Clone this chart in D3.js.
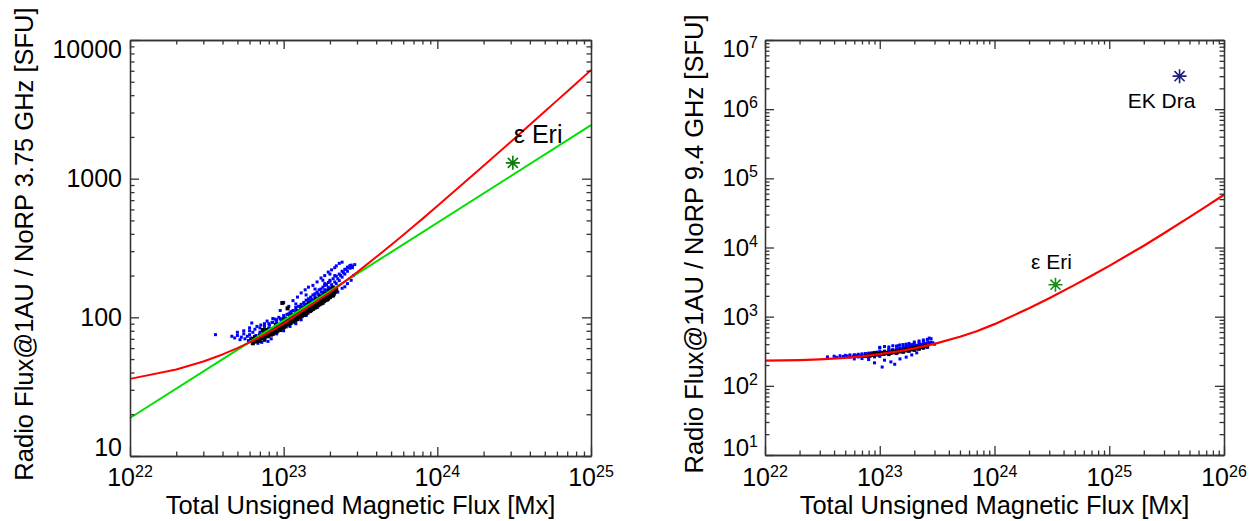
<!DOCTYPE html>
<html><head><meta charset="utf-8">
<script src="https://cdn.jsdelivr.net/npm/d3@7"></script>
<style>
body{margin:0;background:#fff}
svg{display:block}
text{font-family:"Liberation Sans",Arial,Helvetica,sans-serif;fill:#000}
</style>
</head><body>
<svg id="chart" width="1255" height="521"></svg>
<script>
// ---------------- DATA ----------------
// x values of scatter points are given in units of 1e22 Mx
const XUNIT = 1e22;

const xTitle = "Total Unsigned Magnetic Flux [Mx]";

// Left panel: 3.75 GHz
const leftTitleY = "Radio Flux@1AU / NoRP 3.75 GHz [SFU]";
const leftXTickExp = [22, 23, 24, 25];
const leftYTickLabels = ["10", "100", "1000", "10000"];
const leftYTickValues = [10, 100, 1000, 10000];

const leftRedX = [1e22,2e22,3e22,4e22,5e22,6e22,7e22,8e22,9e22,1e23,2e23,3e23,4e23,5e23,6e23,7e23,8e23,9e23,1e24,2e24,3e24,4e24,5e24,6e24,7e24,8e24,9e24,1e25];
const leftRedY = [36,42,48,54,60,66,72,78,84,90,151,211,272,332,392,453,513,574,634,1238,1842,2446,3050,3654,4258,4862,5466,6070];
const leftGreenX = [1e22, 1e25];
const leftGreenY = [18.8, 2430];

const leftBlackX = [6.2,6.4,6.6,6.5,6.8,7.0,7.0,7.2,7.4,7.5,7.6,7.8,8.0,8.0,8.2,8.4,8.5,8.6,8.8,9.0,9.0,9.2,9.4,9.5,9.6,9.8,10.0,10.0,10.2,10.4,10.5,10.6,10.8,11.0,11.0,11.2,11.4,11.5,11.6,11.8,12.0,12.0,12.3,12.5,12.6,12.8,13.0,13.0,13.3,13.5,13.6,13.8,14.0,14.2,14.5,14.6,14.8,15.0,15.3,15.5,15.7,16.0,16.2,16.5,16.8,17.0,17.3,17.6,18.0,18.3,18.6,19.0,19.3,19.6,20.0,20.3,20.6,21.0,21.5,22.0,9.8,10.6,7.3,
  6.3,6.9,7.4,7.9,8.3,8.7,9.1,9.5,9.9,10.3,10.7,11.1,11.5,11.9,12.3,12.7,13.1,13.5,13.9,14.3,14.7,15.1,15.5,15.9,16.3,16.7,17.1,17.5,17.9,18.3,18.7,19.1,19.5,19.9,20.5,21.2,
  7.7,8.9,10.1,11.3,12.5,13.7,14.9,16.1,17.3,18.5,19.7,20.9];
const leftBlackY = [68,70,67,72,71,69,74,72,76,70,73,78,75,80,77,82,76,80,84,79,86,83,88,81,86,90,85,92,88,94,89,97,92,96,100,94,99,104,97,102,106,99,104,110,102,108,113,105,110,116,108,114,119,112,118,124,115,121,126,118,124,130,122,128,135,126,132,139,130,137,143,135,142,148,140,147,153,145,152,158,127,116,81,
  65,68,71,73,75,78,80,82,84,86,89,91,93,95,97,100,102,104,106,108,111,113,115,117,119,122,124,126,128,131,133,135,138,140,144,148,
  81,88,96,103,110,118,126,133,141,149,156,163];

const leftBlueX = [3.6,4.6,4.8,5.0,5.2,5.3,5.5,5.6,5.8,5.9,6.0,6.1,6.3,6.4,6.6,6.8,7.0,7.2,7.5,7.9,8.3,
  6.2,6.0,6.7,7.1,7.5,7.8,8.1,8.4,8.8,9.0,9.3,9.6,10.0,10.3,10.8,11.2,11.5,12.0,12.4,12.8,13.2,13.6,14.0,14.4,14.8,15.2,15.6,16.0,16.4,16.8,17.2,17.6,18.0,18.5,19.0,19.5,20.0,20.5,21.0,21.5,22.0,22.5,23.0,23.5,24.0,24.5,25.0,25.5,26.0,26.5,27.0,27.5,28.0,29.0,23.0,21.5,20.0,18.5,
  9.0,10.0,11.0,12.0,13.0,14.0,15.0,16.5,18.0,19.5,21.0,22.5,24.0,25.0,26.0,27.5,28.5,
  5.0,5.5,6.0,6.5,7.0,7.5,8.0,8.5,9.0,9.5,10.0,10.5,11.0,11.5,12.0,12.5,13.0,13.5,14.0,14.5,15.0,15.5,16.0,16.5,17.0,17.5,18.0,18.5,19.0,19.5,20.0,21.0,22.0,23.0,24.0,25.0,26.0,27.0,28.0,
  7,8,9,10,11,12,13,14,15,16,17,18,19,20,
  8.5,9.5,10,10.8,11.5,12.3,13,13.8,14.5,15.5,16.5,17.5,18.5,19.5,20.5,21.5,12,14,16,18,20,22,24];
const leftBlueY = [75,73,71,74,69,72,76,70,73,68,75,71,78,66,74,65,67,66,68,67,70,
  91,84,86,88,90,94,88,92,97,93,100,96,103,99,106,110,104,115,111,120,116,125,120,130,126,135,131,141,137,147,142,152,148,158,153,165,160,172,166,180,175,190,184,200,195,210,205,222,215,230,226,238,232,240,245,200,185,175,
  76,80,86,90,96,103,110,118,126,134,142,152,162,166,175,185,200,
  78,80,80,82,84,86,90,92,96,98,100,105,108,112,118,120,124,128,133,136,140,145,148,152,158,160,165,170,172,178,182,190,198,205,215,222,230,236,228,
  78,84,91,97,104,110,118,124,131,137,144,150,157,163,
  98,112,128,120,132,140,150,158,165,170,180,192,200,212,220,228,125,145,160,185,205,235,250];
const leftStarX = 3.1e24, leftStarY = 1300, leftStarLabel = "ε Eri";

// Right panel: 9.4 GHz
const rightTitleY = "Radio Flux@1AU / NoRP 9.4 GHz [SFU]";
const rightXTickExp = [22, 23, 24, 25, 26];
const rightYTickExp = [1, 2, 3, 4, 5, 6, 7];

const rightRedX = [1e22,2e22,3e22,5e22,7e22,1e23,1.5e23,2e23,3e23,5e23,7e23,1e24,2e24,3e24,5e24,7e24,1e25,2e25,3e25,5e25,7e25,1e26];
const rightRedY = [231,236,242,254,267,287,318,348,405,513,617,780,1321,1849,2884,3905,5420,10617,16050,27460,39350,57850];

const rightBlackX = [8,8.5,9,9.5,10,10.5,11,11.5,12,12.5,13,13.5,14,14.5,15,15.5,16,16.5,17,17.5,18,18.5,19,19.5,20,20.5,21,21.5,22,23,24,25,9,11,13,15,17,19,21,12,14,16,18,20,22,24,26,
  7.5,8.2,8.8,9.4,10.2,10.8,11.6,12.4,13.2,14.2,15.2,16.2,17.2,18.2,19.2,20.2,21.4,22.6,23.8,25.2];
const rightBlackY = [280,285,282,290,288,295,292,300,298,305,302,310,308,316,312,322,318,328,323,333,330,340,335,345,340,352,346,357,352,362,368,375,295,305,318,325,338,350,360,290,300,312,322,332,345,358,370,
  268,272,278,282,287,290,296,300,306,312,318,324,330,336,342,348,355,362,369,377];

const rightBlueX = [3.5,4.2,4.8,5.2,5.5,5.9,6.2,6.5,6.8,7.0,7.3,7.6,7.9,8.2,8.5,8.8,9.0,9.2,9.5,9.8,10.0,10.2,10.5,10.8,11.0,11.5,12.0,12.5,13.0,13.5,14.0,14.5,15.0,15.5,16.0,16.5,17.0,17.5,18.0,18.5,19.0,19.5,20.0,21.0,22.0,23.0,24.0,25.0,26.0,27.0,28.0,29.0,30.0,12.0,10.0,14.5,
  10.5,9.0,12.5,13.5,11.0,15.0,17.0,19.0,21.0,8.0,7.0,
  4.0,4.5,5.0,5.5,6.0,6.5,7.0,7.5,8.0,8.5,9.0,9.5,10,11,12,13,14,15,16,17,18,19,20,21,22,23,24,25,26,27,28,
  6,8,10,12,14,16,18,20,22,24,26,
  10,11,12,13,14,15,16,17,18,20,22,24,26,27];
const rightBlueY = [262,258,265,270,260,268,275,262,270,280,265,275,285,270,290,278,262,295,282,300,268,290,305,285,312,295,320,300,330,310,340,318,350,325,360,335,372,345,385,350,395,360,410,370,420,380,440,395,460,410,480,420,400,340,352,380,
  187,215,222,205,235,245,260,280,300,240,248,
  268,272,276,280,282,286,290,293,297,300,304,307,312,318,326,332,338,345,352,358,365,372,378,385,392,398,404,410,416,422,428,
  245,258,270,282,293,305,316,327,338,349,359,
  360,370,365,380,375,390,395,400,410,430,445,460,470,490];

const rightStars = [
  {x: 3.4e24, y: 2900, label: "ε Eri", color: "#1b8a1b"},
  {x: 4.1e25, y: 3.0e6, label: "EK Dra", color: "#1f1f80"}
];

// ---------------- DRAWING ----------------
const svg = d3.select("#chart");
const TICK_FS = 25, SUP_FS = 16, TITLE_FS = 25.5;

function decadeTicks(lo, hi) {
  const major = [], minor = [];
  for (let e = lo; e <= hi; e++) {
    major.push(Math.pow(10, e));
    if (e < hi) for (let k = 2; k <= 9; k++) minor.push(k * Math.pow(10, e));
  }
  return {major, minor};
}

function styleAxis(g) {
  g.selectAll("path,line").attr("stroke", "#333").attr("stroke-width", 1.3);
  g.selectAll("text").remove();
}

function drawFrame(x, y, box, xe, ye) {
  const xt = decadeTicks(xe[0], xe[1]);
  const yt = decadeTicks(ye[0], ye[1]);
  const specs = [
    [d3.axisBottom, x, `translate(0,${box.y1})`, xt],
    [d3.axisTop, x, `translate(0,${box.y0})`, xt],
    [d3.axisLeft, y, `translate(${box.x0},0)`, yt],
    [d3.axisRight, y, `translate(${box.x1},0)`, yt]
  ];
  specs.forEach(([ax, sc, tr, t]) => {
    svg.append("g").attr("transform", tr)
      .call(ax(sc).tickValues(t.minor).tickSize(-4.5).tickSizeOuter(0).tickFormat(""))
      .call(styleAxis);
    svg.append("g").attr("transform", tr)
      .call(ax(sc).tickValues(t.major).tickSize(-9).tickSizeOuter(0).tickFormat(""))
      .call(styleAxis);
  });
}

function powLabel(g, x, yBase, exp, anchor, fs, sfs) {
  const t = g.append("text").attr("x", x).attr("y", yBase)
    .attr("text-anchor", anchor).style("font-size", fs + "px");
  t.append("tspan").text("10");
  t.append("tspan").attr("dy", -9).style("font-size", sfs + "px").text(exp);
}

function star(g, cx, cy, r, color) {
  const d = r * 0.72;
  const p = `M${cx - r},${cy}H${cx + r}M${cx},${cy - r}V${cy + r}` +
            `M${cx - d},${cy - d}L${cx + d},${cy + d}M${cx - d},${cy + d}L${cx + d},${cy - d}`;
  g.append("path").attr("d", p).attr("stroke", color).attr("stroke-width", 1.6).attr("fill", "none");
}

function scatter(g, x, y, xs, ys, color, s) {
  g.selectAll(null).data(xs.map((v, i) => [v * XUNIT, ys[i]])).enter()
    .append("rect")
    .attr("x", d => x(d[0]) - s / 2).attr("y", d => y(d[1]) - s / 2)
    .attr("width", s).attr("height", s).attr("fill", color);
}

function line(g, x, y, xs, ys, color, w) {
  g.append("path").datum(xs.map((v, i) => [v, ys[i]]))
    .attr("d", d3.line().x(d => x(d[0])).y(d => y(d[1])))
    .attr("fill", "none").attr("stroke", color).attr("stroke-width", w)
    .attr("stroke-linejoin", "round");
}

// ---- Left panel ----
{
  const box = {x0: 130, x1: 591, y0: 40, y1: 456};
  const x = d3.scaleLog().domain([1e22, 1e25]).range([box.x0, box.x1]);
  const y = d3.scaleLog().domain([10, 10000]).range([box.y1, box.y0]);
  const g = svg.append("g");
  scatter(g, x, y, leftBlueX, leftBlueY, "#0000ff", 3);
  scatter(g, x, y, leftBlackX, leftBlackY, "#000000", 4);
  line(g, x, y, leftGreenX, leftGreenY, "#00e000", 2);
  line(g, x, y, leftRedX, leftRedY, "#ff0000", 2);
  star(g, x(leftStarX), y(leftStarY), 7, "#0b7a0b");
  g.append("text").attr("x", x(leftStarX) + 1).attr("y", 143).style("font-size", "25px").text(leftStarLabel);
  drawFrame(x, y, box, [22, 25], [1, 4]);
  leftXTickExp.forEach(e => powLabel(svg, x(Math.pow(10, e)), 486, e, "middle", TICK_FS, SUP_FS));
  leftYTickValues.forEach((v, i) => {
    const base = Math.max(box.y0 + 17.5, Math.min(box.y1, y(v) + 8.8));
    svg.append("text").attr("x", box.x0 - 8).attr("y", base).attr("text-anchor", "end")
      .style("font-size", TICK_FS + "px").text(leftYTickLabels[i]);
  });
  svg.append("text").attr("x", (box.x0 + box.x1) / 2).attr("y", 514).attr("text-anchor", "middle")
    .style("font-size", TITLE_FS + "px").text(xTitle);
  svg.append("text").attr("transform", `translate(33,244) rotate(-90)`).attr("text-anchor", "middle")
    .style("font-size", TITLE_FS + "px").text(leftTitleY);
}

// ---- Right panel ----
{
  const box = {x0: 765, x1: 1224, y0: 40, y1: 455};
  const x = d3.scaleLog().domain([1e22, 1e26]).range([box.x0, box.x1]);
  const y = d3.scaleLog().domain([10, 1e7]).range([box.y1, box.y0]);
  const g = svg.append("g");
  scatter(g, x, y, rightBlueX, rightBlueY, "#0000ff", 3);
  scatter(g, x, y, rightBlackX, rightBlackY, "#000000", 3.6);
  line(g, x, y, rightRedX, rightRedY, "#ff0000", 2.2);
  rightStars.forEach(s => star(g, x(s.x), y(s.y), 7, s.color));
  const eri = rightStars[0], ek = rightStars[1];
  g.append("text").attr("x", x(eri.x) - 4).attr("y", 269).attr("text-anchor", "middle")
    .style("font-size", "21px").text(eri.label);
  g.append("text").attr("x", x(ek.x) - 18).attr("y", 108).attr("text-anchor", "middle")
    .style("font-size", "21px").text(ek.label);
  drawFrame(x, y, box, [22, 26], [1, 7]);
  rightXTickExp.forEach(e => powLabel(svg, x(Math.pow(10, e)), 486, e, "middle", TICK_FS, SUP_FS));
  rightYTickExp.forEach(e => {
    const base = Math.max(box.y0 + 17, Math.min(box.y1 + 1, y(Math.pow(10, e)) + 8));
    powLabel(svg, box.x0 - 7, base, e, "end", 24, SUP_FS);
  });
  svg.append("text").attr("x", (box.x0 + box.x1) / 2).attr("y", 514).attr("text-anchor", "middle")
    .style("font-size", TITLE_FS + "px").text(xTitle);
  svg.append("text").attr("transform", `translate(703,244) rotate(-90)`).attr("text-anchor", "middle")
    .style("font-size", TITLE_FS + "px").text(rightTitleY);
}
</script>
</body></html>
